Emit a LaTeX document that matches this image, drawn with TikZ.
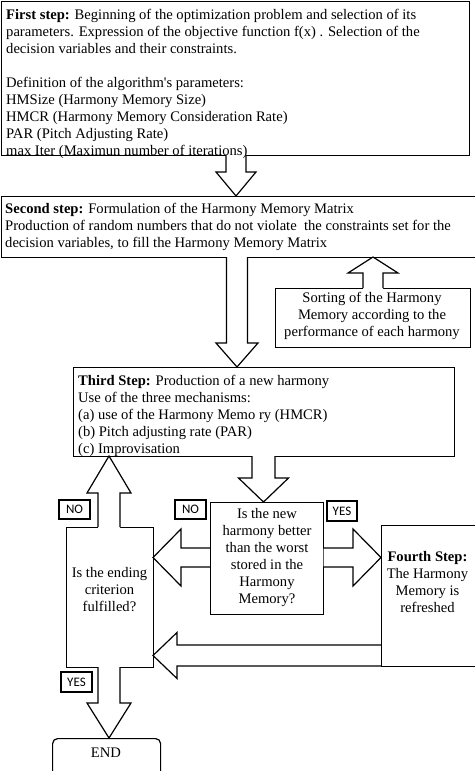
\documentclass[tikz,border=0pt]{standalone}
\usepackage{fontspec}
\setmainfont{Liberation Serif}
\newfontfamily\rawserif{Liberation Serif}[Ligatures=TeXOff]
\newfontfamily\lblfont{Carlito}
\newcommand\varrow[7]{%
  \fill[white] (#1-#6,#3) -- (#1-#6,#4) -- (#1-#7,#4) -- (#1,#5) -- (#1+#7,#4) -- (#1+#6,#4) -- (#1+#6,#3) -- cycle;
  \draw[arr] (#1-#6,#2) -- (#1-#6,#4) -- (#1-#7,#4) -- (#1,#5) -- (#1+#7,#4) -- (#1+#6,#4) -- (#1+#6,#2);
}
\newcommand\harrow[7]{%
  \fill[white] (#3,#1-#6) -- (#4,#1-#6) -- (#4,#1-#7) -- (#5,#1) -- (#4,#1+#7) -- (#4,#1+#6) -- (#3,#1+#6) -- cycle;
  \draw[arr] (#2,#1-#6) -- (#4,#1-#6) -- (#4,#1-#7) -- (#5,#1) -- (#4,#1+#7) -- (#4,#1+#6) -- (#2,#1+#6);
}
\begin{document}
\begin{tikzpicture}[x=1pt,y=-1pt,
  box/.style={draw, line width=1.2pt, fill=white, inner sep=0pt, anchor=north west},
  arr/.style={line width=1.2pt, line join=miter},
  txt/.style={font=\fontsize{14.6}{17}\selectfont, inner sep=0pt, align=left, anchor=north west},
  ctxt/.style={font=\fontsize{14.6}{17}\selectfont, inner sep=0pt, align=center},
  lbl/.style={draw, line width=1.5pt, font=\lblfont\fontsize{13}{15}\selectfont, inner sep=0pt, minimum width=31pt, minimum height=19pt}]
\useasboundingbox (0,0) rectangle (474,771);
\fill[white] (0,0) rectangle (474,771);
% boxes
\node[box, minimum width=468pt, minimum height=154pt] (first) at (1,1) {};
\node[box, minimum width=475pt, minimum height=61pt] (second) at (1,196) {};
\node[box, minimum width=195pt, minimum height=59pt] (sorting) at (275,288) {};
\node[box, minimum width=381pt, minimum height=89pt] (third) at (73,367) {};
\node[box, minimum width=113pt, minimum height=112pt] (decision) at (210,502) {};
\node[box, minimum width=87pt, minimum height=140pt] (ending) at (66,527) {};
\node[box, minimum width=95pt, minimum height=141pt] (fourth) at (381,525) {};
\node[box, rounded corners=5pt, minimum width=108pt, minimum height=60pt] (endbox) at (52,738) {};
% block arrows
\varrow{236}{155}{153}{172}{196}{10}{20}
\varrow{237}{257}{255}{343}{367}{10.5}{21}
\varrow{373}{288}{290}{273}{257}{10}{25}
\varrow{263.5}{456}{454}{478}{502}{11.5}{25}
\varrow{109}{527}{529}{493}{456}{11}{22}
\varrow{109}{667}{665}{703}{738}{11}{22}
\harrow{557.5}{210}{209.4}{181}{153}{9.5}{28.5}
\harrow{557.5}{323}{323.6}{353}{381}{9.5}{28.5}
\harrow{655.5}{381}{380.4}{177}{153}{10.5}{23}
% texts
\node[txt] (firsttxt) at (6,7.6) {\strut\textbf{First step:} Beginning of the optimization problem and selection of its\\
parameters. Expression of the objective function f(x) . Selection of the\\
decision variables and their constraints.\\[17pt]
Definition of the algorithm{\rawserif'}s parameters:\\
HMSize (Harmony Memory Size)\\
HMCR (Harmony Memory Consideration Rate)\\
PAR (Pitch Adjusting Rate)\\
max Iter (Maximun number of iterations)};
\node[txt] (secondtxt) at (5,201.6) {\strut\textbf{Second step:} Formulation of the Harmony Memory Matrix\\
Production of random numbers that do not violate\ \ the constraints set for the\\
decision variables, to fill the Harmony Memory Matrix};
\node[ctxt] (sortingtxt) at (372,316) {Sorting of the Harmony\\Memory according to the\\performance of each harmony};
\node[txt] (thirdtxt) at (78,373.6) {\strut\textbf{Third Step:} Production of a new harmony\\
Use of the three mechanisms:\\
(a) use of the Harmony Memo ry (HMCR)\\
(b) Pitch adjusting rate (PAR)\\
(c) Improvisation};
\node[ctxt] (decisiontxt) at (267,557.5) {Is the new\\harmony better\\than the worst\\stored in the\\Harmony\\Memory?};
\node[ctxt] (endingtxt) at (109.5,590) {Is the ending\\criterion\\fulfilled?};
\node[ctxt] (fourthtxt) at (427.5,581.5) {\textbf{Fourth Step:}\\The Harmony\\Memory is\\refreshed};
\node[ctxt] (endtxt) at (106,753) {END};
% labels
\node[lbl] (no1) at (74.5,509.5) {NO};
\node[lbl] (no2) at (190.5,509.5) {NO};
\node[lbl, minimum width=30pt, minimum height=20pt] (yes1) at (342,511) {YES};
\node[lbl, minimum height=20pt] (yes2) at (76.5,682) {YES};
\end{tikzpicture}
\end{document}
